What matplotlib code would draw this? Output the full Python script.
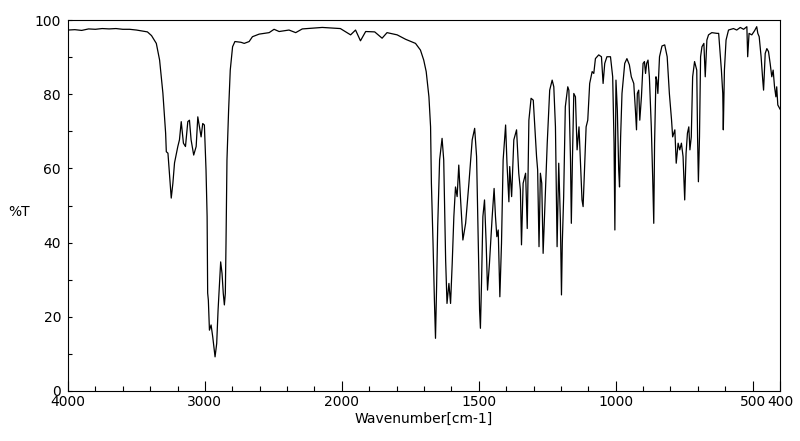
import numpy as np
import matplotlib
matplotlib.use("Agg")
import matplotlib.pyplot as plt

# wavenumber (cm-1) and transmittance (%T)
wavenumber = [
    4000, 3950, 3900, 3850, 3800, 3750, 3700, 3650, 3600, 3550, 3500, 3450, 3420,
    3390, 3355, 3331, 3307, 3287, 3282, 3270, 3246, 3234, 3222, 3198, 3186, 3173,
    3157, 3142, 3125, 3113, 3101, 3082, 3064, 3052, 3040, 3028, 3016, 3004, 2992,
    2984, 2980, 2975, 2967, 2955, 2943, 2926, 2914, 2904, 2895, 2885, 2875, 2866,
    2858, 2851, 2846, 2839, 2827, 2815, 2798, 2781, 2737, 2713, 2677, 2653, 2604,
    2531, 2495, 2458, 2386, 2337, 2289, 2143, 2011, 1968, 1950, 1932, 1913, 1880,
    1853, 1835, 1798, 1767, 1731, 1713, 1701, 1692, 1682, 1676, 1673, 1667, 1662,
    1658, 1654, 1650, 1643, 1634, 1628, 1621, 1616, 1609, 1603, 1597, 1591, 1585,
    1579, 1573, 1567, 1558, 1548, 1536, 1524, 1515, 1508, 1502, 1497, 1494, 1490,
    1485, 1479, 1473, 1468, 1461, 1451, 1444, 1439, 1434, 1429, 1423, 1417, 1411,
    1402, 1397, 1390, 1387, 1380, 1372, 1362, 1354, 1348, 1344, 1338, 1329, 1323,
    1317, 1309, 1301, 1293, 1289, 1285, 1280, 1275, 1270, 1265, 1260, 1250, 1241,
    1232, 1226, 1220, 1214, 1208, 1202, 1198, 1195, 1190, 1184, 1175, 1171, 1165,
    1162, 1158, 1153, 1147, 1141, 1134, 1129, 1123, 1119, 1114, 1108, 1102, 1095,
    1086, 1080, 1074, 1062, 1052, 1046, 1040, 1032, 1019, 1011, 1006, 1003, 999,
    994, 989, 986, 982, 977, 967, 959, 950, 943, 934, 928, 924, 921, 916, 912, 906,
    900, 895, 891, 887, 882, 877, 870, 865, 861, 858, 853, 850, 846, 840, 831, 821,
    812, 804, 796, 792, 784, 779, 772, 766, 760, 754, 748, 743, 738, 733, 729, 724,
    719, 712, 704, 701, 698, 694, 690, 685, 678, 673, 667, 661, 649, 630, 624, 614,
    609, 607, 603, 597, 588, 570, 558, 545, 533, 521, 518, 513, 503, 493, 485, 481,
    476, 469, 463, 460, 454, 448, 442, 436, 430, 425, 420, 415, 412, 408, 400,
]
transmittance = [
    97.3, 97.4, 97.2, 97.6, 97.5, 97.7, 97.6, 97.7, 97.5, 97.5, 97.3, 97.0, 96.8,
    95.8, 93.7, 89.2, 80.3, 69.5, 64.5, 64.1, 52.0, 56.0, 61.5, 65.9, 67.7, 72.6,
    66.8, 65.9, 72.6, 73.0, 67.7, 63.6, 65.9, 73.9, 71.2, 68.5, 72.1, 71.7, 59.6,
    47.0, 26.4, 24.5, 16.4, 17.8, 14.6, 9.2, 12.8, 21.8, 28.1, 34.8, 31.7, 26.3,
    23.2, 26.3, 39.8, 62.3, 75.7, 86.5, 92.8, 94.2, 94.0, 93.7, 94.2, 95.5, 96.2,
    96.6, 97.5, 96.9, 97.3, 96.6, 97.6, 98.0, 97.7, 96.0, 97.3, 94.4, 96.9, 96.8,
    95.1, 96.6, 96.0, 94.8, 93.7, 91.9, 89.2, 86.1, 79.3, 71.2, 56.0, 39.8, 24.5,
    14.2, 28.1, 44.3, 62.3, 68.1, 62.3, 35.3, 23.6, 29.0, 23.6, 34.4, 47.0, 55.0,
    52.4, 60.9, 52.4, 40.7, 45.2, 56.0, 67.7, 70.8, 63.2, 39.8, 21.8, 16.9, 29.0,
    47.0, 51.5, 39.8, 27.2, 34.4, 47.0, 54.6, 47.0, 41.6, 43.4, 25.4, 39.8, 62.3,
    71.7, 61.4, 51.0, 60.5, 52.4, 67.7, 70.4, 58.7, 54.2, 39.4, 56.0, 58.7, 43.8,
    73.0, 78.9, 78.4, 68.5, 63.2, 59.6, 38.9, 58.7, 56.0, 37.1, 47.0, 66.8, 81.1,
    83.8, 82.0, 71.2, 38.9, 61.4, 46.1, 25.9, 39.8, 52.4, 76.6, 82.0, 81.1, 62.3,
    45.2, 62.3, 80.2, 79.3, 65.0, 71.2, 62.3, 51.5, 49.7, 59.6, 71.2, 73.0, 82.9,
    86.1, 85.6, 89.6, 90.6, 90.1, 82.9, 88.3, 90.1, 90.1, 84.7, 66.8, 43.4, 83.8,
    75.7, 59.6, 55.0, 68.5, 80.2, 88.3, 89.6, 87.9, 84.7, 82.9, 75.7, 70.4, 80.2, 81.1, 73.0, 79.3,
    88.3, 88.8, 85.6, 88.3, 89.2, 84.7, 71.2, 57.8, 45.2, 66.8, 84.7, 83.8, 80.2, 90.1, 93.0, 93.3,
    90.1, 80.2, 73.0, 68.5, 70.4, 61.4, 66.8, 65.0, 66.8, 63.2, 51.5, 64.1, 69.5, 71.2, 65.0, 68.5,
    84.7, 88.8, 86.5, 68.5, 56.4, 68.5, 90.1, 92.8, 93.7, 84.7, 94.6, 96.0, 96.6, 96.4, 96.4, 86.5,
    80.2, 70.4, 86.5, 94.6, 97.3, 97.7, 97.3, 98.0, 97.5, 98.2, 90.1, 96.4, 96.0, 97.1, 98.2, 96.4,
    95.5, 90.1, 83.8, 81.1, 91.0, 92.3, 91.5, 88.3, 84.7, 86.5, 82.0, 79.3, 82.0, 77.1, 76.0,
]

x_major = [4000, 3000, 2000, 1500, 1000, 500, 400]
x_minor = list(range(3800, 2000, -200)) + list(range(1900, 400, -100))


# spectrometer style axis: 4000-2000 drawn at half the scale of 2000-400
def fwd(w):
    w = np.asarray(w, dtype=float)
    return np.where(w >= 2000, (w + 2000) / 2.0, w)


def inv(u):
    u = np.asarray(u, dtype=float)
    return np.where(u >= 2000, 2.0 * u - 2000, u)


fig = plt.figure(figsize=(8, 4.41), dpi=100)
ax = fig.add_axes([0.085, 0.1134, 0.89, 0.8412])

ax.plot(wavenumber, transmittance, color='black', lw=0.9)

ax.set_xscale('function', functions=(fwd, inv))
ax.set_xlim(4000, 400)
ax.set_ylim(0, 100)

ax.set_xticks(x_major)
ax.set_xticklabels([str(v) for v in x_major])
ax.set_xticks(x_minor, minor=True)
ax.set_yticks(range(0, 101, 20))
ax.set_yticks(range(10, 100, 20), minor=True)

ax.tick_params(axis='x', which='major', direction='in', length=7, width=0.8, pad=3, labelsize=10)
ax.tick_params(axis='x', which='minor', direction='in', length=3.5, width=0.8)
ax.tick_params(axis='y', which='both', direction='in', length=3, width=0.8, pad=5, labelsize=10)

for s in ax.spines.values():
    s.set_linewidth(0.8)

ax.set_xlabel('Wavenumber[cm-1]', fontsize=10, labelpad=2)
fig.text(8 / 800, 1 - 212 / 441, '%T', fontsize=10, ha='left', va='center')

fig.savefig('out.png', dpi=100)
